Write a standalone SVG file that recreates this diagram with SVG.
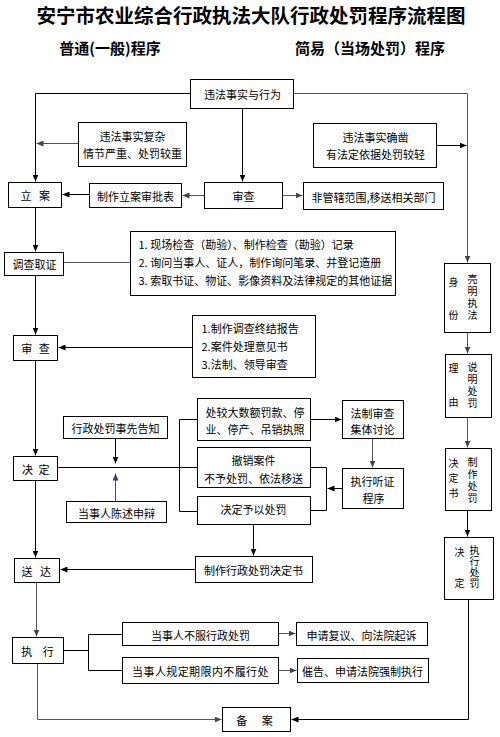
<svg xmlns="http://www.w3.org/2000/svg" width="500" height="737" viewBox="0 0 500 737">
<style>
.b{fill:#fff;stroke:#000;stroke-width:1}
.t{font-family:"Noto Sans CJK SC","Noto Sans CJK JP",sans-serif;font-size:11px;fill:#000}
.v{font-size:10px;writing-mode:tb;glyph-orientation-vertical:0}
.m{text-anchor:middle;dominant-baseline:central}
.l{dominant-baseline:central}
.ln{fill:none;stroke:#000;stroke-width:1}
.g{stroke:#555}
.bl{stroke:#3a4f7a}
.h{font-family:"Noto Sans CJK SC","Noto Sans CJK JP",sans-serif;font-weight:bold;fill:#000;text-anchor:middle;dominant-baseline:central}
</style>
<defs>
<marker id="a" markerWidth="7" markerHeight="6" refX="7" refY="3" orient="auto" markerUnits="userSpaceOnUse"><path d="M0,0 L7,3 L0,6 z" fill="#000"/></marker>
<marker id="ag" markerWidth="7" markerHeight="6" refX="7" refY="3" orient="auto" markerUnits="userSpaceOnUse"><path d="M0,0 L7,3 L0,6 z" fill="#444"/></marker>
<marker id="ab" markerWidth="7" markerHeight="6" refX="7" refY="3" orient="auto" markerUnits="userSpaceOnUse"><path d="M0,0 L7,3 L0,6 z" fill="#2d426e"/></marker>
</defs>
<rect width="500" height="737" fill="#fff"/>
<text class="h" x="251" y="14" font-size="19.5">安宁市农业综合行政执法大队行政处罚程序流程图</text>
<text class="h" x="110" y="47" font-size="15">普通(一般)程序</text>
<text class="h" x="370" y="47" font-size="15">简易（当场处罚）程序</text>
<g transform="translate(0.5,0.5)">
<g id="connectors">
<path class="ln" d="M190,93 H35 V181" marker-end="url(#a)"/>
<path class="ln g" d="M293,93 H467 V262" marker-end="url(#ag)"/>
<path class="ln" d="M242,108 V181" marker-end="url(#a)"/>
<path class="ln g" d="M78,143 H36" marker-end="url(#ag)"/>
<path class="ln" d="M89,194 H62" marker-end="url(#a)"/>
<path class="ln g" d="M204,195 H182" marker-end="url(#ag)"/>
<path class="ln g" d="M282,195 H302" marker-end="url(#ag)"/>
<path class="ln" d="M436,145 H466" marker-end="url(#a)"/>
<path class="ln" d="M35,207 V251" marker-end="url(#a)"/>
<path class="ln g" d="M63,262 H130"/>
<path class="ln" d="M35,274 V334" marker-end="url(#a)"/>
<path class="ln" d="M192,347 H58" marker-end="url(#a)"/>
<path class="ln" d="M35,360 V455" marker-end="url(#a)"/>
<path class="ln" d="M57,467 H197"/>
<path class="ln" d="M115,438 V463" marker-end="url(#a)"/>
<path class="ln bl" d="M115,501 V473" marker-end="url(#ab)"/>
<path class="ln" d="M197,419 H179 V511 H197"/>
<path class="ln" d="M310,419 H341" marker-end="url(#a)"/>
<path class="ln g" d="M372,438 V467" marker-end="url(#ag)"/>
<path class="ln" d="M342,488 H327" marker-end="url(#a)"/>
<path class="ln" d="M310,467 H326 V510 H310"/>
<path class="ln" d="M253,524 V555" marker-end="url(#a)"/>
<path class="ln" d="M35,480 V557" marker-end="url(#a)"/>
<path class="ln" d="M195,569 H60" marker-end="url(#a)"/>
<path class="ln g" d="M36,582 V636" marker-end="url(#ag)"/>
<path class="ln" d="M63,650 H88"/>
<path class="ln" d="M122,634 H88 V670 H122"/>
<path class="ln g" d="M278,633 H295" marker-end="url(#ag)"/>
<path class="ln g" d="M278,670 H296" marker-end="url(#ag)"/>
<path class="ln g" d="M37,663 V719 H221" marker-end="url(#ag)"/>
<path class="ln g" d="M467,332 V353" marker-end="url(#ag)"/>
<path class="ln g" d="M467,417 V447" marker-end="url(#ag)"/>
<path class="ln" d="M467,510 V536" marker-end="url(#a)"/>
<path class="ln" d="M468,599 V719 H291" marker-end="url(#a)"/>
</g>
<g id="n-facts"><rect class="b" x="190" y="79" width="103" height="29"/><text class="t m" x="242" y="93">违法事实与行为</text></g>
<g id="n-complex"><rect class="b" x="78" y="122" width="108" height="44"/><text class="t m" x="132" y="135">违法事实复杂</text><text class="t m" x="132" y="152">情节严重、处罚较重</text></g>
<g id="n-clear"><rect class="b" x="313" y="123" width="123" height="44"/><text class="t m" x="375" y="136">违法事实确凿</text><text class="t m" x="375" y="153">有法定依据处罚较轻</text></g>
<g id="n-lian"><rect class="b" x="8" y="182" width="53" height="25"/><text class="t m" x="36" y="194" letter-spacing="2.5">立 案</text></g>
<g id="n-approval"><rect class="b" x="89" y="183" width="92" height="24"/><text class="t m" x="135" y="195">制作立案审批表</text></g>
<g id="n-review1"><rect class="b" x="204" y="182" width="78" height="26"/><text class="t m" x="243" y="195">审查</text></g>
<g id="n-transfer"><rect class="b" x="303" y="182" width="140" height="27"/><text class="t m" x="373" y="196">非管辖范围,移送相关部门</text></g>
<g id="n-investigate"><rect class="b" x="4" y="252" width="59" height="23"/><text class="t m" x="34" y="263">调查取证</text></g>
<g id="n-evidence"><rect class="b" x="130" y="231" width="265" height="64"/><text class="t l" x="138" y="243">1. 现场检查（勘验）、制作检查（勘验）记录</text><text class="t l" x="138" y="261">2. 询问当事人、证人，制作询问笔录、并登记造册</text><text class="t l" x="138" y="279">3. 索取书证、物证、影像资料及法律规定的其他证据</text></g>
<g id="n-review2"><rect class="b" x="13" y="335" width="44" height="25"/><text class="t m" x="36" y="347" letter-spacing="2">审 查</text></g>
<g id="n-report"><rect class="b" x="192" y="315" width="123" height="62"/><text class="t l" x="201" y="327">1.制作调查终结报告</text><text class="t l" x="201" y="345">2.案件处理意见书</text><text class="t l" x="201" y="363">3.法制、领导审查</text></g>
<g id="n-decide"><rect class="b" x="13" y="456" width="44" height="24"/><text class="t m" x="36" y="468" letter-spacing="1.5">决 定</text></g>
<g id="n-notice"><rect class="b" x="63" y="416" width="104" height="22"/><text class="t m" x="115" y="427">行政处罚事先告知</text></g>
<g id="n-defend"><rect class="b" x="66" y="501" width="100" height="21"/><text class="t m" x="116" y="512">当事人陈述申辩</text></g>
<g id="n-large"><rect class="b" x="197" y="398" width="113" height="42"/><text class="t l" x="205" y="411">处较大数额罚款、停</text><text class="t l" x="205" y="428">业、停产、吊销执照</text></g>
<g id="n-legal"><rect class="b" x="342" y="400" width="61" height="38"/><text class="t m" x="372" y="412">法制审查</text><text class="t m" x="372" y="428">集体讨论</text></g>
<g id="n-revoke"><rect class="b" x="197" y="447" width="113" height="40"/><text class="t m" x="253" y="459">撤销案件</text><text class="t m" x="253" y="477">不予处罚、依法移送</text></g>
<g id="n-hearing"><rect class="b" x="342" y="468" width="61" height="40"/><text class="t m" x="372" y="480">执行听证</text><text class="t m" x="373" y="497">程序</text></g>
<g id="n-punish"><rect class="b" x="197" y="496" width="113" height="28"/><text class="t m" x="253" y="508">决定予以处罚</text></g>
<g id="n-deliver"><rect class="b" x="14" y="558" width="45" height="24"/><text class="t m" x="37" y="570" letter-spacing="2.5">送 达</text></g>
<g id="n-docu"><rect class="b" x="195" y="556" width="117" height="26"/><text class="t m" x="253" y="569">制作行政处罚决定书</text></g>
<g id="n-exec"><rect class="b" x="12" y="637" width="51" height="26"/><text class="t m" x="39" y="650" letter-spacing="4">执 行</text></g>
<g id="n-refuse"><rect class="b" x="122" y="622" width="156" height="23"/><text class="t m" x="200" y="634">当事人不服行政处罚</text></g>
<g id="n-overdue"><rect class="b" x="122" y="657" width="156" height="26"/><text class="t m" x="200" y="670" letter-spacing="0.4">当事人规定期限内不履行处</text></g>
<g id="n-appeal"><rect class="b" x="296" y="622" width="131" height="23"/><text class="t m" x="361" y="634">申请复议、向法院起诉</text></g>
<g id="n-enforce"><rect class="b" x="297" y="658" width="131" height="24"/><text class="t m" x="362" y="670">催告、申请法院强制执行</text></g>
<g id="n-file"><rect class="b" x="222" y="707" width="68" height="24"/><text class="t m" x="257" y="719" letter-spacing="6">备 案</text></g>
<g id="n-s1"><rect class="b" x="444" y="263" width="46" height="69"/><text class="t v" x="453" y="277" letter-spacing="23">身份</text><text class="t v" x="472" y="274" letter-spacing="2">亮明执法</text></g>
<g id="n-s2"><rect class="b" x="445" y="354" width="46" height="63"/><text class="t v" x="453" y="363" letter-spacing="24">理由</text><text class="t v" x="472" y="362" letter-spacing="2">说明处罚</text></g>
<g id="n-s3"><rect class="b" x="445" y="448" width="46" height="62"/><text class="t v" x="453" y="458" letter-spacing="5">决定书</text><text class="t v" x="472" y="457" letter-spacing="2">制作处罚</text></g>
<g id="n-s4"><rect class="b" x="444" y="537" width="49" height="62"/><text class="t v" x="459" y="547" letter-spacing="21">决定</text><text class="t v" x="474" y="545" letter-spacing="1">执行处罚</text></g>
</g>
</svg>
